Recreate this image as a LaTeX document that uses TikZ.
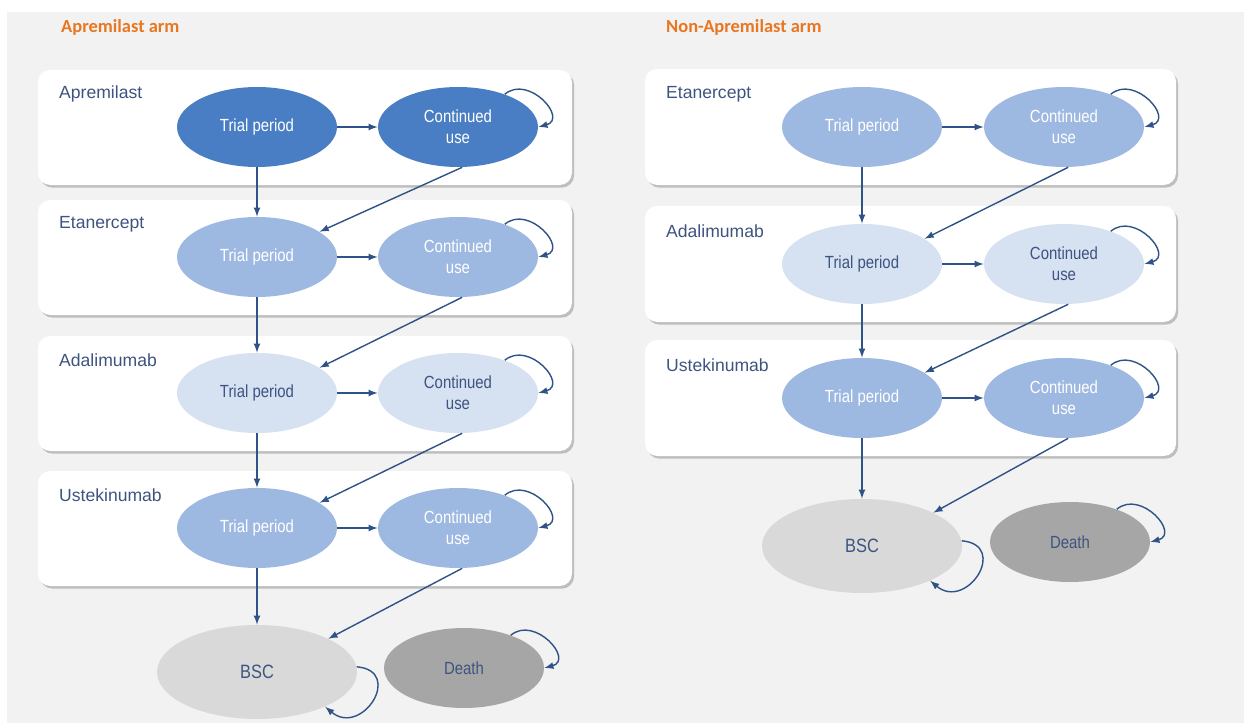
\documentclass[tikz,border=0pt]{standalone}
\usepackage{fontspec}
\setmainfont{Liberation Sans}
\newfontfamily\narrowfont[FakeStretch=0.85]{Liberation Sans}
\newfontfamily\titlefont{Carlito}
\usetikzlibrary{arrows}
\usetikzlibrary{shapes.geometric, shadows}
\definecolor{mybg}{RGB}{242,242,242}
\definecolor{mydark}{RGB}{74,126,196}
\definecolor{mymid}{RGB}{158,185,225}
\definecolor{mylight}{RGB}{214,225,242}
\definecolor{mygrey}{RGB}{217,217,217}
\definecolor{mydeath}{RGB}{166,166,166}
\definecolor{myarrow}{RGB}{47,82,135}
\definecolor{mytext}{RGB}{62,84,128}
\definecolor{myorange}{RGB}{232,119,34}

\tikzset{
  panel/.style={fill=white, rounded corners=7pt,
    drop shadow={shadow xshift=1.2pt, shadow yshift=-1.5pt, opacity=0.5, fill=black!45}},
  druglabel/.style={anchor=west, text=mytext, font=\fontsize{10}{12}\selectfont},
  armtitle/.style={anchor=west, text=myorange, font=\titlefont\bfseries\fontsize{10.5}{12}\selectfont},
  oval/.style={ellipse, minimum width=3.2cm, minimum height=1.6cm, inner sep=0pt,
    align=center, font=\narrowfont\fontsize{10}{12}\selectfont},
  flow/.style={-latex, draw=myarrow, line width=0.8pt},
}

\begin{document}
\begin{tikzpicture}[x=0.02cm, y=0.02cm]
\useasboundingbox (0,0) rectangle (1244,-723);
\fill[white] (0,0) rectangle (1244,-723);
\fill[mybg] (7,-12) rectangle (1244,-723);

%titles
\node[armtitle] (lefttitle) at (55,-27) {Apremilast arm};
\node[armtitle] (righttitle) at (660,-27) {Non-Apremilast arm};

%left arm
\foreach \row/\y/\drug/\fillc/\txtc in {a/127/Apremilast/mydark/white, b/257/Etanercept/mymid/white,
    c/393/Adalimumab/mylight/mytext, d/528/Ustekinumab/mymid/white}{
  \path[panel] (38,-\y+57) rectangle (572,-\y-58);
  \node[druglabel] (lab\row) at (53,-\y+33) {\drug};
  \node[oval, fill=\fillc, text=\txtc] (tp\row) at (257,-\y) {Trial period};
  \node[oval, fill=\fillc, text=\txtc] (cu\row) at (458,-\y) {Continued\\use};
  \draw[flow] (tp\row) -- (cu\row);
  \draw[flow] (cu\row.35) to[out=40, in=15, looseness=1.7] (cu\row.east);
}
\node[oval, fill=mygrey, text=mytext, minimum width=4cm, minimum height=1.88cm,
  font=\narrowfont\fontsize{11}{13}\selectfont] (bscl) at (257,-672) {BSC};
\node[oval, fill=mydeath, text=mytext] (deathl) at (464,-668) {Death};

\foreach \a/\b in {a/b, b/c, c/d}{
  \draw[flow] (tp\a) -- (tp\b);
  \draw[flow] (cu\a.-84) -- (tp\b.22);
}
\draw[flow] (tpd) -- (bscl);
\draw[flow] (cud.-84) -- (bscl.25);
\draw[flow] (bscl.3) to[out=-5, in=-40, looseness=2.4] (bscl.-27);
\draw[flow] (deathl.35) to[out=40, in=15, looseness=1.7] (deathl.east);

%right arm
\foreach \row/\y/\drug/\fillc/\txtc in {e/127/Etanercept/mymid/white, f/264/Adalimumab/mylight/mytext,
    g/398/Ustekinumab/mymid/white}{
  \path[panel] (645,-\y+58) rectangle (1176,-\y-58);
  \node[druglabel] (lab\row) at (660,-\y+33) {\drug};
  \node[oval, fill=\fillc, text=\txtc] (tp\row) at (862,-\y) {Trial period};
  \node[oval, fill=\fillc, text=\txtc] (cu\row) at (1064,-\y) {Continued\\use};
  \draw[flow] (tp\row) -- (cu\row);
  \draw[flow] (cu\row.35) to[out=40, in=15, looseness=1.7] (cu\row.east);
}
\node[oval, fill=mygrey, text=mytext, minimum width=4cm, minimum height=1.88cm,
  font=\narrowfont\fontsize{11}{13}\selectfont] (bscr) at (862,-546) {BSC};
\node[oval, fill=mydeath, text=mytext] (deathr) at (1070,-542) {Death};

\foreach \a/\b in {e/f, f/g}{
  \draw[flow] (tp\a) -- (tp\b);
  \draw[flow] (cu\a.-84) -- (tp\b.22);
}
\draw[flow] (tpg) -- (bscr);
\draw[flow] (cug.-84) -- (bscr.25);
\draw[flow] (bscr.3) to[out=-5, in=-40, looseness=2.4] (bscr.-27);
\draw[flow] (deathr.35) to[out=40, in=15, looseness=1.7] (deathr.east);
\end{tikzpicture}
\end{document}
